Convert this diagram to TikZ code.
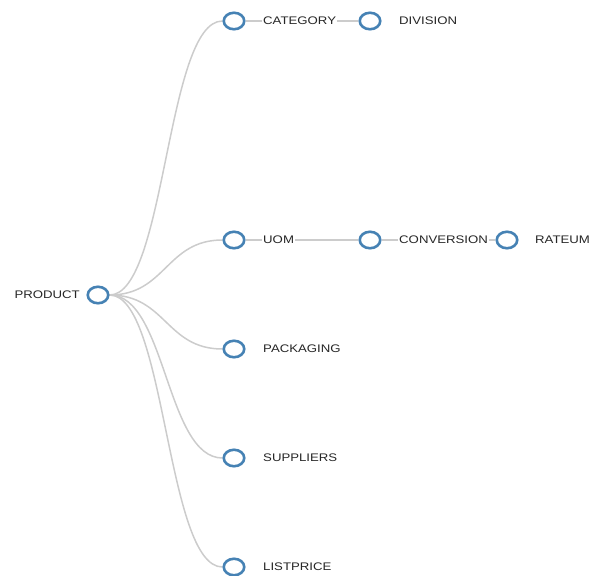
\documentclass[tikz,border=0pt]{standalone}
\usepackage{fontspec}
\setmainfont{Liberation Sans}
\usetikzlibrary{shapes.geometric,backgrounds}
\definecolor{steel}{HTML}{4682B4}
\definecolor{linkgray}{HTML}{CCCCCC}
\newcommand\treelabel[1]{\scalebox{1.2}[1]{#1}}
\tikzset{
  treenode/.style={ellipse, draw=steel, fill=white, line width=2.6pt,
    minimum width=20.5pt, minimum height=16.5pt, inner sep=0pt},
  nodetext/.style={fill=white, inner sep=1pt, text=black!85,
    font=\fontsize{11}{13}\selectfont},
  treelink/.style={draw=linkgray, line width=1.5pt}
}
\begin{document}
\begin{tikzpicture}[x=1pt,y=-1pt]
  \useasboundingbox (0,0) rectangle (590,576);

  % tree nodes
  \node[treenode] (prod) at (98,295) {};
  \node[treenode] (cat)  at (234,21) {};
  \node[treenode] (div)  at (370,21) {};
  \node[treenode] (uom)  at (234,240) {};
  \node[treenode] (conv) at (370,240) {};
  \node[treenode] (rate) at (507,240) {};
  \node[treenode] (pack) at (234,349) {};
  \node[treenode] (supp) at (234,458) {};
  \node[treenode] (list) at (234,567) {};

  % links, kept behind the nodes
  \begin{scope}[on background layer]
    \path[treelink] (prod) .. controls (166,295) and (166,21)  .. (cat);
    \path[treelink] (prod) .. controls (166,295) and (166,240) .. (uom);
    \path[treelink] (prod) .. controls (166,295) and (166,349) .. (pack);
    \path[treelink] (prod) .. controls (166,295) and (166,458) .. (supp);
    \path[treelink] (prod) .. controls (166,295) and (166,567) .. (list);
    \path[treelink] (cat) -- (div);
    \path[treelink] (uom) -- (conv);
    \path[treelink] (conv) -- (rate);
  \end{scope}

  % labels
  \node[nodetext, anchor=east] (tprod) at (81,295)  {\treelabel{PRODUCT}};
  \node[nodetext, anchor=west] (tcat)  at (262,21)  {\treelabel{CATEGORY}};
  \node[nodetext, anchor=west] (tdiv)  at (398,21)  {\treelabel{DIVISION}};
  \node[nodetext, anchor=west] (tuom)  at (262,240) {\treelabel{UOM}};
  \node[nodetext, anchor=west] (tconv) at (398,240) {\treelabel{CONVERSION}};
  \node[nodetext, anchor=west] (trate) at (534,240) {\treelabel{RATEUM}};
  \node[nodetext, anchor=west] (tpack) at (262,349) {\treelabel{PACKAGING}};
  \node[nodetext, anchor=west] (tsupp) at (262,458) {\treelabel{SUPPLIERS}};
  \node[nodetext, anchor=west] (tlist) at (262,567) {\treelabel{LISTPRICE}};
\end{tikzpicture}
\end{document}
